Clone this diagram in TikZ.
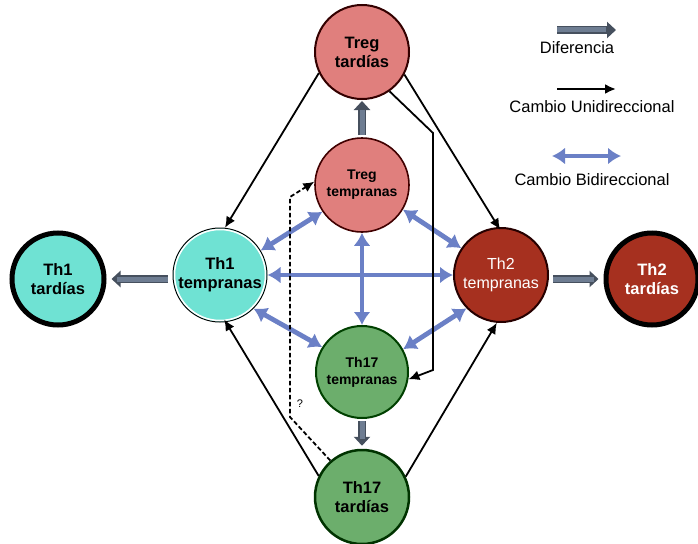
\documentclass[tikz,border=0pt]{standalone}
\usepackage{fontspec}
\setmainfont{Liberation Sans}
\usetikzlibrary{arrows.meta}
\definecolor{tregc}{HTML}{E07F7D}
\definecolor{th1c}{HTML}{6FE2D3}
\definecolor{th2c}{HTML}{A6301F}
\definecolor{th17c}{HTML}{6CAE6C}
\definecolor{bluec}{HTML}{6B80C6}
\definecolor{gdark}{HTML}{46505E}
\definecolor{glight}{HTML}{6E7D92}
\tikzset{
  cell/.style={circle, inner sep=0pt, minimum size=94pt, align=center},
  latefont/.style={font=\fontsize{16.5pt}{19pt}\selectfont\bfseries},
  earlyfont/.style={font=\fontsize{14pt}{17pt}\selectfont\bfseries},
  blackarr/.style={line width=1.8pt, -{Latex[length=11pt,width=10pt]}},
  dasharr/.style={line width=1.8pt, dash pattern=on 4.5pt off 2.5pt, -{Latex[length=11pt,width=10pt]}},
  bluearr/.style={line width=4.8pt, draw=bluec, {Latex[length=13pt,width=17pt]}-{Latex[length=13pt,width=17pt]}},
  grayarr/.style={line width=8pt, draw=gdark, -{Triangle[length=9pt,width=16pt]},
    postaction={draw=glight, line width=5pt, -, shorten >=10pt}},
  legtext/.style={font=\fontsize{16.5pt}{19pt}\selectfont}
}
\begin{document}
\begin{tikzpicture}[x=1pt,y=-1pt]
\useasboundingbox (0,0) rectangle (698,543);
% cells
\node[cell, latefont, fill=tregc, draw=black!80!red, line width=2pt] (tregL) at (362,52) {Treg\\tardías};
\node[cell, earlyfont, fill=tregc, draw=black!75!red, line width=1.6pt] (tregE) at (362,185) {Treg\\tempranas};
\node[cell, font=\fontsize{16.5pt}{19pt}\selectfont\bfseries, fill=th1c, draw=black, line width=1pt] (th1E) at (220,275) {Th1\\tempranas};
\draw[white, line width=1.5pt] (220,275) circle (45.5);
\node[cell, latefont, fill=th1c, draw=black, line width=5pt, minimum size=92pt] (th1L) at (58,279) {Th1\\tardías};
\node[cell, font=\fontsize{16pt}{19pt}\selectfont, text=white, fill=th2c, draw=black!85!red, line width=2pt] (th2E) at (501,275) {Th2\\tempranas};
\node[cell, latefont, text=white, fill=th2c, draw=black, line width=5pt, minimum size=92pt] (th2L) at (652,279) {Th2\\tardías};
\node[cell, earlyfont, fill=th17c, draw=black!75!green, line width=2pt, minimum size=92pt] (th17E) at (362,372) {Th17\\tempranas};
\node[cell, latefont, fill=th17c, draw=black!80!green, line width=2.5pt] (th17L) at (362,497) {Th17\\tardías};
% gray differentiation arrows
\draw[grayarr, shorten <=2pt, shorten >=1pt] (tregE.90) -- (tregL.270);
\draw[grayarr, shorten <=5pt, shorten >=5pt] (th1E.west |- th1L.east) -- (th1L.east);
\draw[grayarr, shorten <=4pt, shorten >=5pt] (th2E.east |- th2L.west) -- (th2L.west);
\draw[grayarr, shorten <=2pt, shorten >=3pt] (th17E.270) -- (th17L.90);
% blue bidirectional
\draw[bluearr] (th1E.31) -- (tregE.214);
\draw[bluearr] (th1E.0) -- (th2E.180);
\draw[bluearr] (tregE.270) -- (th17E.90);
\draw[bluearr] (th1E.315) -- (th17E.148);
\draw[bluearr] (tregE.329) -- (th2E.146);
\draw[bluearr] (th17E.29) -- (th2E.224);
% black unidirectional
\draw[blackarr] (tregL.206) -- (th1E.84);
\draw[blackarr, shorten >=-3pt] (tregL.332) -- (th2E.93);
\draw[blackarr] (tregL.305) -- (433,133) -- (433,370) -- (th17E.351);
\draw[blackarr, shorten >=-3pt] (th17L.154) -- (th1E.277);
\draw[blackarr] (th17L.25) -- (th2E.265);
\draw[dasharr] (th17L.131) -- (290,417) -- (290,197) -- (tregE.176);
\node[font=\fontsize{11pt}{13pt}\selectfont] (q) at (300,404) {?};
% legend
\coordinate (d1) at (557,30); \coordinate (d2) at (616,30);
\draw[grayarr] (d1) -- (d2);
\node[legtext] (ldif) at (577,48) {Diferencia};
\coordinate (u1) at (557,89); \coordinate (u2) at (616,89);
\draw[blackarr, line width=2.2pt] (u1) -- (u2);
\node[legtext] (luni) at (592,107) {Cambio Unidireccional};
\coordinate (b1) at (552,156); \coordinate (b2) at (621,156);
\draw[bluearr] (b1) -- (b2);
\node[legtext] (lbi) at (592,180) {Cambio Bidireccional};
\end{tikzpicture}
\end{document}
